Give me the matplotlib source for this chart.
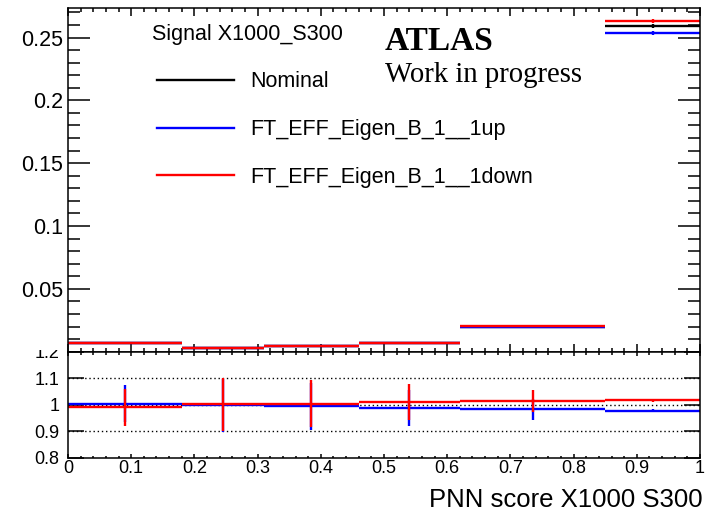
import numpy as np
import matplotlib
matplotlib.use("Agg")
import matplotlib.pyplot as plt
from matplotlib.lines import Line2D
from matplotlib.patches import Rectangle
from matplotlib.ticker import MultipleLocator, FuncFormatter

### Histogram contents ###
bin_edges = [0.0, 0.18, 0.31, 0.46, 0.62, 0.85, 1.0]
nominal = [0.0067, 0.0029, 0.0045, 0.0072, 0.0198, 0.2591]
ratio_up = [1.004, 0.998, 0.994, 0.987, 0.983, 0.978]
ratio_down = [0.991, 1.001, 1.004, 1.010, 1.014, 1.016]
ratio_err = [0.070, 0.100, 0.088, 0.068, 0.040, 0.007]

legend_header = "Signal X1000_S300"
legend_labels = ["Nominal", "FT_EFF_Eigen_B_1__1up", "FT_EFF_Eigen_B_1__1down"]
xlabel = "PNN score X1000 S300"

plt.rcParams["font.family"] = ["Liberation Sans", "DejaVu Sans"]

lo = np.array(bin_edges[:-1])
hi = np.array(bin_edges[1:])
centers = (lo + hi) / 2
nom = np.array(nominal)
r_up = np.array(ratio_up)
r_down = np.array(ratio_down)
r_err = np.array(ratio_err)
up = nom * r_up
down = nom * r_down

W, H = 710, 515
fig = plt.figure(figsize=(W / 100, H / 100), dpi=100)
ax = fig.add_axes([68 / W, 1 - 351.7 / H, 632 / W, 343.7 / H])
rax = fig.add_axes([68 / W, 1 - 457.7 / H, 632 / W, 106 / H])

lw = 1.7
colors = ["black", "blue", "red"]

### Upper pad: shapes ###
for vals, c in zip([nom, up, down], colors):
    ax.hlines(vals, lo, hi, colors=c, lw=lw)
    ax.vlines(centers, vals - vals * r_err, vals + vals * r_err, colors=c, lw=lw)

ax.set_xlim(0, 1)
ax.set_ylim(0, 0.2735)
ax.xaxis.set_major_locator(MultipleLocator(0.1))
ax.xaxis.set_minor_locator(MultipleLocator(0.02))
ax.yaxis.set_major_locator(MultipleLocator(0.05))
ax.yaxis.set_minor_locator(MultipleLocator(0.01))
ax.yaxis.set_major_formatter(FuncFormatter(lambda v, p: "" if abs(v) < 1e-9 else f"{v:g}"))
ax.tick_params(which="both", direction="in", top=True, right=True,
               labelbottom=False, width=1.1)
ax.tick_params(axis="x", which="major", length=5.8)
ax.tick_params(axis="x", which="minor", length=3.0)
ax.tick_params(axis="y", which="major", length=15.6, labelsize=15.5, pad=3.5)
ax.tick_params(axis="y", which="minor", length=8.4)
for s in ax.spines.values():
    s.set_linewidth(1.1)

handles = [Line2D([], [], color=c, lw=lw) for c in colors]
ax.legend(handles, legend_labels, loc="upper left",
          bbox_to_anchor=(0.1408, 0.8155), frameon=False, fontsize=15.5,
          labelspacing=1.24, handlelength=3.6, handletextpad=0.74,
          borderpad=0, borderaxespad=0)
ax.text(0.1329, 0.9069, legend_header, transform=ax.transAxes,
        fontsize=15.5, va="baseline")

ax.text(0.5016, 0.878, "ATLAS", transform=ax.transAxes, fontsize=24,
        fontweight="bold", family="Liberation Serif", va="baseline")
ax.text(0.5016, 0.7856, "Work in progress", transform=ax.transAxes,
        fontsize=20.7, family="Liberation Serif", va="baseline")

### Lower pad: ratios to nominal ###
for y in [0.9, 1.0, 1.1]:
    rax.axhline(y, color="black", lw=1.0, ls=(0, (1, 2)))
for vals, c in zip([r_up, r_down], colors[1:]):
    rax.hlines(vals, lo, hi, colors=c, lw=lw)
    rax.vlines(centers, vals - r_err, vals + r_err, colors=c, lw=lw)

rax.set_xlim(0, 1)
rax.set_ylim(0.8, 1.2)
rax.xaxis.set_major_locator(MultipleLocator(0.1))
rax.xaxis.set_minor_locator(MultipleLocator(0.02))
rax.yaxis.set_major_locator(MultipleLocator(0.1))
rax.xaxis.set_major_formatter(FuncFormatter(lambda v, p: f"{v:g}"))
rax.yaxis.set_major_formatter(FuncFormatter(lambda v, p: f"{v:g}"))
rax.tick_params(which="both", direction="in", top=True, right=True, width=1.1,
                labelsize=13)
rax.tick_params(axis="x", which="major", length=3.1, pad=2)
rax.tick_params(axis="x", which="minor", length=1.8)
rax.tick_params(axis="y", which="major", length=11.5, pad=6)
for s in rax.spines.values():
    s.set_linewidth(1.1)

# the upper pad hides the top half of the "1.2" label
fig.patches.append(Rectangle((0, 1 - 350 / H), 66 / W, 14 / H,
                             transform=fig.transFigure, facecolor="white",
                             edgecolor="none", zorder=5))

fig.text(703 / W, 1 - 507.3 / H, xlabel, ha="right", va="baseline", fontsize=18.5)

fig.savefig("out.png", dpi=100)
